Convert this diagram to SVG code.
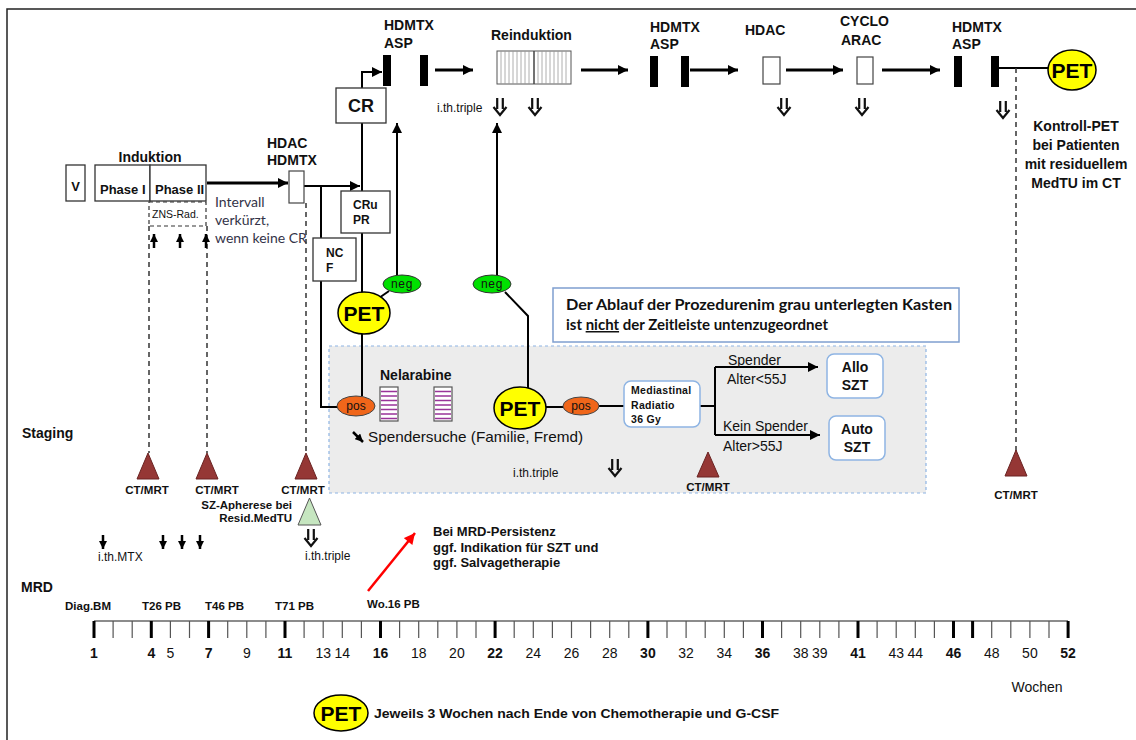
<svg xmlns="http://www.w3.org/2000/svg" width="1136" height="740" viewBox="0 0 1136 740">
<defs>
<style>
.b{font-family:"Liberation Sans",Arial,sans-serif;font-weight:bold;fill:#111}
.n{font-family:"Liberation Sans",Arial,sans-serif;fill:#111}
.c{font-family:Lato,"Open Sans",sans-serif}
.ln{stroke:#000;stroke-width:2;fill:none}
.th{stroke:#000;stroke-width:3;fill:none}
.dash{stroke:#333;stroke-width:1.5;stroke-dasharray:5 4;fill:none}
.tri{fill:#953735;stroke:#6a2322;stroke-width:1}
.pet{fill:#ffff00;stroke:#000;stroke-width:1.5}
.neg{fill:#00e000;stroke:#333;stroke-width:1}
.pos{fill:#f0661a;stroke:#444;stroke-width:1}
.bar{fill:#000}
.box{fill:#fff;stroke:#333;stroke-width:1.3}
.rbox{fill:#fff;stroke:#8eb4e3;stroke-width:1.5}
.pt{font-family:"Liberation Sans",Arial,sans-serif;font-weight:bold;font-size:21px;fill:#000}
.sm{font-family:"Liberation Sans",Arial,sans-serif;font-size:12px;fill:#111}
.sa{stroke:#000;stroke-width:2.5;fill:none}
</style>
<marker id="ah" viewBox="0 0 10 10" refX="10" refY="5" markerWidth="11" markerHeight="10" markerUnits="userSpaceOnUse" orient="auto"><path d="M0,0 L10,5 L0,10 z" fill="#000"/></marker>
<marker id="ahs" viewBox="0 0 10 10" refX="10" refY="5" markerWidth="8" markerHeight="8" markerUnits="userSpaceOnUse" orient="auto"><path d="M0,0 L10,5 L0,10 z" fill="#000"/></marker>
<marker id="ahr" viewBox="0 0 10 10" refX="10" refY="5" markerWidth="12" markerHeight="11" markerUnits="userSpaceOnUse" orient="auto"><path d="M0,0 L10,5 L0,10 z" fill="#f00"/></marker>
<g id="dbl"><path d="M-2.8,-9 V2 M2.8,-9 V2 M-6.5,0 L0,8 L6.5,0" fill="none" stroke="#111" stroke-width="2.2" stroke-linejoin="miter"/></g>
</defs>
<rect width="1136" height="740" fill="#fff"/>
<path d="M7,740 V9 H1136" stroke="#222" stroke-width="1.5" fill="none"/>

<g id="grey-area">
<rect x="329" y="346" width="597" height="147" fill="#ececec" stroke="#8eb4e3" stroke-width="1.2" stroke-dasharray="3 3"/>
</g>

<g id="connectors">
<path class="ln" d="M362,88 V72 H382" marker-end="url(#ah)"/>
<path class="th" d="M435,70 H473" marker-end="url(#ah)"/>
<path class="th" d="M581,70 H628" marker-end="url(#ah)"/>
<path class="th" d="M690,70 H738" marker-end="url(#ah)"/>
<path class="th" d="M786,70 H843" marker-end="url(#ah)"/>
<path class="th" d="M882,70 H940" marker-end="url(#ah)"/>
<path class="ln" d="M999,68 H1048"/>
<path class="th" d="M207,183 H288" marker-end="url(#ah)"/>
<path class="ln" d="M304,186 H360" marker-end="url(#ah)"/>
<path class="ln" d="M321,186 V407 H338"/>
<path class="ln" d="M362,123 V191 M362,233 V293 M362,334 V396"/>
<path class="ln" d="M397,275 V123" marker-end="url(#ah)"/>
<path class="ln" d="M497,275 V123" marker-end="url(#ah)"/>
<path class="ln" d="M389,291 L379,298"/>
<path class="ln" d="M505,292 L528,316 V388"/>
<path class="ln" d="M546,407 H563 M599,406 H624"/>
<path class="ln" d="M700,406 H715 M715,367 V435"/>
<path class="ln" d="M715,367 H818" marker-end="url(#ah)"/>
<path class="ln" d="M715,435 H820" marker-end="url(#ah)"/>
<path class="dash" d="M149,226 V453 M207,226 V453 M306,203 V453 M1016,68 V451"/>
<path class="sa" d="M154,248 V234" marker-end="url(#ahs)"/>
<path class="sa" d="M180,248 V234" marker-end="url(#ahs)"/>
<path class="sa" d="M206,248 V234" marker-end="url(#ahs)"/>
<path class="sa" d="M103,535 V549" marker-end="url(#ahs)"/>
<path class="sa" d="M163,535 V549" marker-end="url(#ahs)"/>
<path class="sa" d="M182,535 V549" marker-end="url(#ahs)"/>
<path class="sa" d="M200,535 V549" marker-end="url(#ahs)"/>
<path class="sa" d="M353,432 L363,442" marker-end="url(#ahs)"/>
<path stroke="#f00" stroke-width="2.5" fill="none" d="M368,591 L415,533" marker-end="url(#ahr)"/>
</g>

<g id="hdmtx-asp-1">
<text class="b" x="384" y="30" font-size="14">HDMTX</text>
<text class="b" x="384" y="48" font-size="14">ASP</text>
<rect class="bar" x="383" y="55" width="8" height="31"/>
<rect class="bar" x="420" y="55" width="8" height="31"/>
</g>
<g id="reinduktion">
<text class="b" x="491" y="40" font-size="14">Reinduktion</text>
<rect x="497" y="51" width="74" height="33" fill="#fff" stroke="#555" stroke-width="1"/>
<path stroke="#999" stroke-width="0.8" d="M501,51V84M505,51V84M509,51V84M513,51V84M517,51V84M521,51V84M525,51V84M529,51V84M538,51V84M542,51V84M546,51V84M550,51V84M554,51V84M558,51V84M562,51V84M566,51V84"/>
<path stroke="#444" stroke-width="1.5" d="M534,51V84"/>
<text class="sm" x="437" y="112" font-size="12.5">i.th.triple</text>
<use href="#dbl" x="500" y="107"/>
<use href="#dbl" x="535" y="107"/>
</g>
<g id="hdmtx-asp-2">
<text class="b" x="650" y="32" font-size="14">HDMTX</text>
<text class="b" x="650" y="49" font-size="14">ASP</text>
<rect class="bar" x="650" y="56" width="8" height="31"/>
<rect class="bar" x="681" y="56" width="8" height="31"/>
</g>
<g id="hdac-2">
<text class="b" x="745" y="35" font-size="14">HDAC</text>
<rect x="763" y="57" width="17" height="27" fill="#fff" stroke="#444" stroke-width="1.2"/>
<use href="#dbl" x="784" y="107"/>
</g>
<g id="cyclo-arac">
<text class="b" x="840" y="26" font-size="14">CYCLO</text>
<text class="b" x="841" y="45" font-size="14">ARAC</text>
<rect x="857" y="57" width="16" height="27" fill="#fff" stroke="#444" stroke-width="1.2"/>
<use href="#dbl" x="862" y="107"/>
</g>
<g id="hdmtx-asp-3">
<text class="b" x="952" y="32" font-size="14">HDMTX</text>
<text class="b" x="952" y="49" font-size="14">ASP</text>
<rect class="bar" x="954" y="56" width="8" height="31"/>
<rect class="bar" x="991" y="56" width="8" height="31"/>
<use href="#dbl" x="1003" y="110"/>
</g>
<g id="pet-top">
<ellipse class="pet" cx="1072" cy="70" rx="24" ry="20"/>
<text class="pt" x="1072" y="78" text-anchor="middle">PET</text>
</g>
<g id="kontroll-pet">
<text class="b" x="1076" y="131" font-size="14" text-anchor="middle">Kontroll-PET</text>
<text class="b" x="1076" y="150" font-size="14" text-anchor="middle">bei Patienten</text>
<text class="b" x="1076" y="169" font-size="14" text-anchor="middle">mit residuellem</text>
<text class="b" x="1076" y="188" font-size="14" text-anchor="middle">MedTU im CT</text>
</g>

<g id="v-box">
<rect class="box" x="66" y="165" width="19" height="36"/>
<text class="b" x="75.5" y="191" font-size="13" text-anchor="middle">V</text>
</g>
<g id="induktion">
<text class="b" x="150" y="162" font-size="14" text-anchor="middle">Induktion</text>
<rect class="box" x="95" y="165" width="55" height="36"/>
<rect class="box" x="150" y="165" width="56" height="36"/>
<text class="b" x="100" y="194" font-size="13">Phase I</text>
<text class="b" x="155" y="194" font-size="13">Phase II</text>
</g>
<g id="zns-rad">
<rect x="149" y="202" width="57" height="24" fill="#fff" stroke="#333" stroke-width="1.2" stroke-dasharray="4 3"/>
<text class="n" x="152" y="218" font-size="10.5">ZNS-Rad.</text>
</g>
<g id="intervall">
<text class="c" x="215" y="207" font-size="14" fill="#333348">Intervall</text>
<text class="c" x="215" y="225" font-size="14" fill="#333348">verkürzt,</text>
<text class="c" x="215" y="243" font-size="14" fill="#333348">wenn keine CR</text>
</g>
<g id="hdac-hdmtx">
<text class="b" x="267" y="148" font-size="14">HDAC</text>
<text class="b" x="267" y="165" font-size="14">HDMTX</text>
<rect x="289" y="171" width="15" height="32" fill="#fff" stroke="#444" stroke-width="1.2"/>
</g>
<g id="cr">
<rect class="box" x="336" y="88" width="50" height="35"/>
<text class="b" x="361" y="112" font-size="18" text-anchor="middle">CR</text>
</g>
<g id="cru-pr">
<rect class="box" x="341" y="191" width="49" height="42"/>
<text class="b" x="353" y="209" font-size="12">CRu</text>
<text class="b" x="353" y="224" font-size="12">PR</text>
</g>
<g id="ncf">
<rect class="box" x="313" y="238" width="43" height="43"/>
<text class="b" x="326" y="257" font-size="12">NC</text>
<text class="b" x="326" y="272" font-size="12">F</text>
</g>
<g id="neg-1">
<ellipse class="neg" cx="402" cy="284" rx="19" ry="9"/>
<text class="sm" x="402" y="288" font-size="11" text-anchor="middle" letter-spacing="0.6">neg</text>
</g>
<g id="neg-2">
<ellipse class="neg" cx="492" cy="284" rx="19" ry="9"/>
<text class="sm" x="492" y="288" font-size="11" text-anchor="middle" letter-spacing="0.6">neg</text>
</g>
<g id="pet-1">
<ellipse class="pet" cx="364" cy="313" rx="26" ry="21"/>
<text class="pt" x="364" y="321" text-anchor="middle">PET</text>
</g>
<g id="pos-1">
<ellipse class="pos" cx="356" cy="406" rx="19" ry="10"/>
<text class="sm" x="356" y="410" font-size="11.5" text-anchor="middle">pos</text>
</g>

<g id="note">
<rect x="553" y="288" width="406" height="54" fill="#fff" stroke="#7f9fcf" stroke-width="1.5"/>
<text class="c" x="566" y="310" font-size="15" font-weight="bold" fill="#111" textLength="386" lengthAdjust="spacingAndGlyphs">Der Ablauf der Prozedurenim grau unterlegten Kasten</text>
<text class="c" x="566" y="330" font-size="15" font-weight="bold" fill="#111">ist <tspan text-decoration="underline">nicht</tspan> der Zeitleiste untenzugeordnet</text>
</g>

<g id="nelarabine">
<text class="b" x="380" y="380" font-size="14" fill="#1a1a30">Nelarabine</text>
<rect x="380" y="387" width="18" height="34" fill="#fff" stroke="#555" stroke-width="1.2"/>
<rect x="434" y="387" width="18" height="34" fill="#fff" stroke="#555" stroke-width="1.2"/>
<path stroke="#993399" stroke-width="1.3" d="M381,391.5H397M381,396H397M381,400.5H397M381,405H397M381,409.5H397M381,414H397M381,418.5H397M435,391.5H451M435,396H451M435,400.5H451M435,405H451M435,409.5H451M435,414H451M435,418.5H451"/>
</g>
<g id="spendersuche">
<text class="n" x="368" y="442" font-size="14.5" textLength="215" lengthAdjust="spacingAndGlyphs">Spendersuche  (Familie,  Fremd)</text>
</g>
<g id="pet-2">
<ellipse class="pet" cx="520" cy="408" rx="26" ry="21"/>
<text class="pt" x="520" y="416" text-anchor="middle">PET</text>
</g>
<g id="pos-2">
<ellipse class="pos" cx="581" cy="406" rx="18" ry="9"/>
<text class="sm" x="581" y="410" font-size="11.5" text-anchor="middle">pos</text>
</g>
<g id="ith-triple-2">
<text class="sm" x="513" y="477" font-size="12.5">i.th.triple</text>
<use href="#dbl" x="615" y="468"/>
</g>
<g id="mediastinal">
<rect class="rbox" x="624" y="381" width="76" height="46" rx="7"/>
<text class="b" x="631" y="394" font-size="10.5" letter-spacing="0.3">Mediastinal</text>
<text class="b" x="631" y="409" font-size="10.5" letter-spacing="0.3">Radiatio</text>
<text class="b" x="631" y="423" font-size="10.5" letter-spacing="0.3">36 Gy</text>
</g>
<g id="branch-labels">
<text class="n" x="728" y="365" font-size="14">Spender</text>
<text class="n" x="727" y="384" font-size="14">Alter&lt;55J</text>
<text class="n" x="723" y="431" font-size="14">Kein Spender</text>
<text class="n" x="723" y="451" font-size="14">Alter&gt;55J</text>
</g>
<g id="allo-szt">
<rect class="rbox" x="827" y="354" width="56" height="44" rx="7"/>
<text class="b" x="855" y="372" font-size="14" text-anchor="middle">Allo</text>
<text class="b" x="855" y="390" font-size="14" text-anchor="middle">SZT</text>
</g>
<g id="auto-szt">
<rect class="rbox" x="829" y="416" width="56" height="44" rx="7"/>
<text class="b" x="857" y="434" font-size="14" text-anchor="middle">Auto</text>
<text class="b" x="857" y="452" font-size="14" text-anchor="middle">SZT</text>
</g>

<g id="staging">
<text class="b" x="22" y="438" font-size="14">Staging</text>
<polygon class="tri" points="137,479 159,479 148,453"/>
<polygon class="tri" points="196,479 218,479 207,453"/>
<polygon class="tri" points="295,479 317,479 306,453"/>
<polygon class="tri" points="697,477 719,477 708,452"/>
<polygon class="tri" points="1005,476 1027,476 1016,450"/>
<text class="b" x="147" y="494" font-size="11.5" text-anchor="middle">CT/MRT</text>
<text class="b" x="217" y="494" font-size="11.5" text-anchor="middle">CT/MRT</text>
<text class="b" x="303" y="494" font-size="11.5" text-anchor="middle">CT/MRT</text>
<text class="b" x="708" y="491" font-size="11.5" text-anchor="middle">CT/MRT</text>
<text class="b" x="1016" y="499" font-size="11.5" text-anchor="middle">CT/MRT</text>
<text class="b" x="292" y="509" font-size="11.5" text-anchor="end">SZ-Apherese bei</text>
<text class="b" x="292" y="522" font-size="11.5" text-anchor="end">Resid.MedTU</text>
<polygon points="298,525 321,525 309.5,498" fill="#c6e6c0" stroke="#555" stroke-width="1"/>
<use href="#dbl" x="311" y="538"/>
<text class="sm" x="305" y="560" font-size="12.5">i.th.triple</text>
<text class="sm" x="98" y="561" font-size="12.5">i.th.MTX</text>
</g>

<g id="mrd-note">
<text class="b" x="433" y="536" font-size="13">Bei MRD-Persistenz</text>
<text class="b" x="433" y="552" font-size="13">ggf. Indikation für SZT und</text>
<text class="b" x="433" y="567" font-size="13">ggf. Salvagetherapie</text>
</g>

<g id="mrd">
<text class="b" x="21" y="592" font-size="14">MRD</text>
<text class="b" x="65" y="610" font-size="11.5">Diag.BM</text>
<text class="b" x="142" y="610" font-size="11.5">T26  PB</text>
<text class="b" x="205" y="610" font-size="11.5">T46 PB</text>
<text class="b" x="275" y="610" font-size="11.5">T71  PB</text>
<text class="b" x="367" y="608" font-size="11.5">Wo.16 PB</text>
</g>
<g id="timeline">
<path stroke="#666" stroke-width="1.5" d="M94,621 H1068"/>
<path stroke="#555" stroke-width="1.2" d="M113.1,621v17M132.2,621v17M170.4,621v17M189.5,621v17M227.7,621v17M246.8,621v17M265.9,621v17M304.1,621v17M323.2,621v17M342.3,621v17M361.4,621v17M399.6,621v17M418.7,621v17M437.8,621v17M456.9,621v17M476,621v17M514.2,621v17M533.3,621v17M552.4,621v17M571.5,621v17M590.6,621v17M609.7,621v17M628.8,621v17M667,621v17M686.1,621v17M705.2,621v17M724.3,621v17M743.4,621v17M781.6,621v17M800.7,621v17M819.8,621v17M838.9,621v17M877.1,621v17M896.2,621v17M915.3,621v17M934.4,621v17M991.7,621v17M1010.8,621v17M1029.9,621v17M1049,621v17"/>
<path stroke="#000" stroke-width="3" d="M94,621v17M151.3,621v17M208.6,621v17M285,621v17M380.5,621v17M495.1,621v17M647.9,621v17M762.5,621v17M858,621v17M953.5,621v17M972.6,621v17M1068.1,621v17"/>
<g class="b" font-size="14" text-anchor="middle">
<text x="94" y="658">1</text><text x="151.3" y="658">4</text><text x="208.6" y="658">7</text><text x="285" y="658">11</text><text x="380.5" y="658">16</text><text x="495.1" y="658">22</text><text x="647.9" y="658">30</text><text x="762.5" y="658">36</text><text x="858" y="658">41</text><text x="953.5" y="658">46</text><text x="1068.1" y="658">52</text>
</g>
<g class="n" font-size="14" text-anchor="middle">
<text x="170.4" y="658">5</text><text x="246.8" y="658">9</text><text x="323.2" y="658">13</text><text x="342.3" y="658">14</text><text x="418.7" y="658">18</text><text x="456.9" y="658">20</text><text x="533.3" y="658">24</text><text x="571.5" y="658">26</text><text x="609.7" y="658">28</text><text x="686.1" y="658">32</text><text x="724.3" y="658">34</text><text x="800.7" y="658">38</text><text x="819.8" y="658">39</text><text x="896.2" y="658">43</text><text x="915.3" y="658">44</text><text x="991.7" y="658">48</text><text x="1029.9" y="658">50</text>
</g>
<text class="n" x="1037" y="692" font-size="14" text-anchor="middle">Wochen</text>
</g>

<g id="legend">
<ellipse class="pet" cx="341" cy="713" rx="27" ry="18"/>
<text class="pt" x="341" y="721" text-anchor="middle">PET</text>
<text class="b" x="374" y="718" font-size="13" textLength="405" lengthAdjust="spacingAndGlyphs">Jeweils 3 Wochen nach Ende von Chemotherapie und G-CSF</text>
</g>
</svg>
